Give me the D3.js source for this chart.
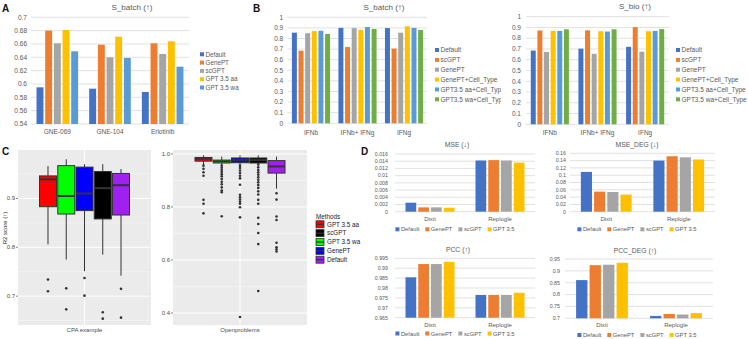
<!DOCTYPE html>
<html>
<head>
<meta charset="utf-8">
<script src="https://cdn.jsdelivr.net/npm/d3@7"></script>
<style>
  body { margin: 0; background: #fff; }
  svg { display: block; font-family: "Liberation Sans", Arial, sans-serif; }
</style>
</head>
<body>
<svg id="fig" width="748" height="339"></svg>
<script>
// ---- panel A : S_batch on three drugs ----
const aCats = ["GNE-069", "GNE-104", "Erlotinib"];
const aSeries = ["Default", "GenePT", "scGPT", "GPT 3.5 aa", "GPT 3.5 wa"];
const aDefault = [0.595, 0.593, 0.588];
const aGenePT = [0.680, 0.659, 0.661];
const aScGPT = [0.661, 0.640, 0.645];
const aGptAA = [0.681, 0.671, 0.664];
const aGptWA = [0.649, 0.639, 0.626];
const aTicks = [0.54, 0.56, 0.58, 0.6, 0.62, 0.64, 0.66, 0.68, 0.7];

// ---- panel B : S_batch / S_bio on interferon sets ----
const bCats = ["IFNb", "IFNb+ IFNg", "IFNg"];
const bSeries = ["Default", "scGPT", "GenePT", "GenePT+Cell_Type", "GPT3.5 aa+Cell_Type", "GPT3.5 wa+Cell_Type"];
const bBatchDefault = [0.855, 0.900, 0.898];
const bBatchScGPT = [0.685, 0.720, 0.705];
const bBatchGenePT = [0.850, 0.898, 0.855];
const bBatchGenePTCell = [0.870, 0.882, 0.915];
const bBatchAACell = [0.873, 0.908, 0.900];
const bBatchWACell = [0.843, 0.890, 0.880];
const bBioDefault = [0.685, 0.703, 0.720];
const bBioScGPT = [0.872, 0.873, 0.903];
const bBioGenePT = [0.672, 0.655, 0.675];
const bBioGenePTCell = [0.868, 0.865, 0.865];
const bBioAACell = [0.868, 0.862, 0.868];
const bBioWACell = [0.883, 0.883, 0.885];
const bTicks = [0, 0.1, 0.2, 0.3, 0.4, 0.5, 0.6, 0.7, 0.8, 0.9, 1];

// ---- panel C : R2 score boxplots (whisker low, q1, median, q3, whisker high) ----
const cMethods = ["GPT 3.5 aa", "GPT 3.5 wa", "GenePT", "scGPT", "Default"];
const cColors = ["#ff0000", "#00ff00", "#0000ff", "#000000", "#a020f0"];
const cLegend = ["GPT 3.5 aa", "scGPT", "GPT 3.5 wa", "GenePT", "Default"];
const cpaStats = [
  [0.806, 0.883, 0.939, 0.946, 0.966],
  [0.775, 0.868, 0.905, 0.967, 0.980],
  [0.751, 0.875, 0.910, 0.964, 0.970],
  [0.785, 0.858, 0.921, 0.955, 0.970],
  [0.742, 0.866, 0.927, 0.951, 0.960]
];
const cpaOutliers = [
  [0.734, 0.710],
  [0.716, 0.673],
  [0.737, 0.701],
  [0.667, 0.654],
  [0.715, 0.656]
];
const opStats = [
  [0.958, 0.973, 0.982, 0.987, 0.995],
  [0.958, 0.966, 0.972, 0.977, 0.990],
  [0.958, 0.967, 0.978, 0.985, 0.995],
  [0.960, 0.966, 0.977, 0.985, 0.995],
  [0.869, 0.928, 0.953, 0.975, 0.990]
];
const opOutliers = [
  [0.956, 0.944, 0.931, 0.918, 0.827, 0.812, 0.776],
  [0.956, 0.948, 0.940, 0.932, 0.924, 0.916, 0.906, 0.895, 0.886, 0.874, 0.862, 0.856, 0.765],
  [0.956, 0.947, 0.938, 0.928, 0.918, 0.908, 0.884, 0.846, 0.837, 0.828, 0.820, 0.812, 0.799, 0.761, 0.385],
  [0.960, 0.950, 0.940, 0.931, 0.922, 0.912, 0.903, 0.893, 0.883, 0.872, 0.859, 0.847, 0.827, 0.812, 0.759, 0.736, 0.702, 0.660, 0.483],
  [0.852, 0.828, 0.764, 0.751, 0.665, 0.648, 0.640, 0.632]
];

// ---- panel D : perturbation prediction ----
const dCats = ["Dixit", "Replogle"];
const dSeries = ["Default", "GenePT", "scGPT", "GPT 3.5"];
const mseDefault = [0.0025, 0.0142];
const mseGenePT = [0.0012, 0.0143];
const mseScGPT = [0.0012, 0.0142];
const mseGpt = [0.0011, 0.0136];
const mseDegDefault = [0.109, 0.140];
const mseDegGenePT = [0.055, 0.152];
const mseDegScGPT = [0.054, 0.149];
const mseDegGpt = [0.047, 0.143];
const pccDefault = [0.9854, 0.9765];
const pccGenePT = [0.9921, 0.9765];
const pccScGPT = [0.9921, 0.9765];
const pccGpt = [0.9932, 0.9776];
const pccDegDefault = [0.861, 0.710];
const pccDegGenePT = [0.924, 0.718];
const pccDegScGPT = [0.926, 0.716];
const pccDegGpt = [0.934, 0.722];
const mseTicks = [0, 0.002, 0.004, 0.006, 0.008, 0.01, 0.012, 0.014, 0.016];
const mseDegTicks = [0, 0.02, 0.04, 0.06, 0.08, 0.1, 0.12, 0.14, 0.16];
const pccTicks = [0.965, 0.97, 0.975, 0.98, 0.985, 0.99, 0.995];
const pccDegTicks = [0.7, 0.75, 0.8, 0.85, 0.9, 0.95];

const BLUE = "#4472c4", ORANGE = "#ed7d31", GRAY = "#a5a5a5", GOLD = "#ffc000", LBLUE = "#5b9bd5", GREEN = "#70ad47";
const TXT = "#595959", GRID = "#d9d9d9";

const svg = d3.select("#fig");
svg.append("rect").attr("width", 748).attr("height", 339).attr("fill", "#fff");

function fmt(v) { return String(+v.toFixed(4)); }

// excel style clustered bar chart
function barChart(o) {
  const g = svg.append("g");
  if (o.clip) g.attr("clip-path", "url(#" + o.clip + ")");
  const y = d3.scaleLinear().domain(o.domain).range([o.bottom, o.top]);
  const x0 = d3.scaleBand().domain(o.cats).range([o.left, o.right])
    .paddingInner(o.gap).paddingOuter(o.gap / 2);
  const x1 = d3.scaleBand().domain(o.series).range([0, x0.bandwidth()]).paddingInner(o.barGap);

  g.selectAll(".grid").data(o.ticks).join("line")
    .attr("x1", o.left).attr("x2", o.right)
    .attr("y1", d => y(d)).attr("y2", d => y(d))
    .attr("stroke", GRID).attr("stroke-width", 0.8);
  g.selectAll(".tick").data(o.ticks).join("text")
    .attr("x", o.left - o.lg).attr("y", d => y(d)).attr("dy", "0.35em")
    .attr("text-anchor", "end").attr("font-size", o.fs).attr("fill", TXT)
    .text(fmt);

  o.series.forEach((s, si) => {
    g.append("g").selectAll("rect").data(o.values[si]).join("rect")
      .attr("x", (d, i) => x0(o.cats[i]) + x1(s))
      .attr("width", x1.bandwidth())
      .attr("y", d => y(d))
      .attr("height", d => y(o.domain[0]) - y(d))
      .attr("fill", o.colors[si]);
  });

  g.selectAll(".cat").data(o.cats).join("text")
    .attr("x", d => x0(d) + x0.bandwidth() / 2).attr("y", o.catY)
    .attr("text-anchor", "middle").attr("font-size", o.cfs || o.fs).attr("fill", TXT)
    .text(d => d);

  g.append("text").attr("x", o.titleX).attr("y", o.titleY)
    .attr("text-anchor", "middle").attr("font-size", o.tfs).attr("fill", TXT)
    .text(o.title);

  if (o.legend === "right") {
    const lg = g.append("g");
    o.series.forEach((s, si) => {
      const yy = o.legY + si * o.legDy;
      lg.append("rect").attr("x", o.legX).attr("y", yy - 2).attr("width", 4).attr("height", 4)
        .attr("fill", o.colors[si]);
      lg.append("text").attr("x", o.legX + 5.5).attr("y", yy).attr("dy", "0.35em")
        .attr("font-size", o.lfs).attr("fill", TXT).text(s);
    });
  } else {
    const lg = g.append("g");
    let cur = 0;
    o.series.forEach((s, si) => {
      lg.append("rect").attr("x", cur).attr("y", o.legY - 2).attr("width", 4).attr("height", 4)
        .attr("fill", o.colors[si]);
      const t = lg.append("text").attr("x", cur + 5.5).attr("y", o.legY).attr("dy", "0.35em")
        .attr("font-size", o.lfs).attr("fill", TXT).text(s);
      cur += 5.5 + t.node().getComputedTextLength() + 6;
    });
    lg.attr("transform", "translate(" + (o.legCx - (cur - 6) / 2) + ",0)");
  }
}

// ggplot style boxplot panel
function boxPanel(o) {
  const g = svg.append("g");
  const y = d3.scaleLinear().domain(o.domain).range([o.bottom, o.top]);
  const cx = (o.left + o.right) / 2;
  const x = d3.scaleBand().domain(cMethods).range([cx - 45, cx + 45]).paddingInner(0.07);
  g.append("rect").attr("x", o.left).attr("y", o.top)
    .attr("width", o.right - o.left).attr("height", o.bottom - o.top).attr("fill", "#ebebeb");
  g.selectAll(".minor").data(o.minor).join("line")
    .attr("x1", o.left).attr("x2", o.right).attr("y1", d => y(d)).attr("y2", d => y(d))
    .attr("stroke", "#fafafa").attr("stroke-width", 0.5);
  g.selectAll(".major").data(o.major).join("line")
    .attr("x1", o.left).attr("x2", o.right).attr("y1", d => y(d)).attr("y2", d => y(d))
    .attr("stroke", "#fff").attr("stroke-width", 1);
  g.append("line").attr("x1", cx).attr("x2", cx).attr("y1", o.top).attr("y2", o.bottom)
    .attr("stroke", "#fff").attr("stroke-width", 1);
  g.selectAll(".tk").data(o.major).join("line")
    .attr("x1", o.left - 2).attr("x2", o.left).attr("y1", d => y(d)).attr("y2", d => y(d))
    .attr("stroke", "#333").attr("stroke-width", 0.6);
  g.selectAll(".tl").data(o.major).join("text")
    .attr("x", o.left - 3).attr("y", d => y(d)).attr("dy", "0.35em")
    .attr("text-anchor", "end").attr("font-size", 6).attr("fill", "#4d4d4d")
    .text(d => d3.format(o.tickFmt)(d));
  g.append("text").attr("x", cx).attr("y", o.bottom + 6.5)
    .attr("text-anchor", "middle").attr("font-size", 6).attr("fill", "#4d4d4d").text(o.label);

  cMethods.forEach((m, i) => {
    const s = o.stats[i];
    const xm = x(m) + x.bandwidth() / 2;
    const b = g.append("g");
    b.append("line").attr("x1", xm).attr("x2", xm).attr("y1", y(s[4])).attr("y2", y(s[3]))
      .attr("stroke", "#333").attr("stroke-width", 1);
    b.append("line").attr("x1", xm).attr("x2", xm).attr("y1", y(s[1])).attr("y2", y(s[0]))
      .attr("stroke", "#333").attr("stroke-width", 1);
    b.append("rect").attr("x", x(m)).attr("width", x.bandwidth())
      .attr("y", y(s[3])).attr("height", y(s[1]) - y(s[3]))
      .attr("fill", cColors[i]).attr("stroke", "#333").attr("stroke-width", 1);
    b.append("line").attr("x1", x(m)).attr("x2", x(m) + x.bandwidth())
      .attr("y1", y(s[2])).attr("y2", y(s[2]))
      .attr("stroke", "#333").attr("stroke-width", 2);
    b.selectAll("circle").data(o.outliers[i]).join("circle")
      .attr("cx", xm).attr("cy", d => y(d)).attr("r", 1.3).attr("fill", "#333");
  });
}

// clip for the left legend of B (cut by the neighbouring chart)
svg.append("defs").append("clipPath").attr("id", "clipB")
  .append("rect").attr("x", 250).attr("y", 0).attr("width", 251).attr("height", 140);

// panel letters
[["A", 2, 12], ["B", 253, 12], ["C", 2, 155], ["D", 361, 155]].forEach(p => {
  svg.append("text").attr("x", p[1]).attr("y", p[2]).attr("font-size", 10)
    .attr("font-weight", "bold").attr("fill", "#111").text(p[0]);
});

barChart({
  cats: aCats, series: aSeries, values: [aDefault, aGenePT, aScGPT, aGptAA, aGptWA],
  colors: [BLUE, ORANGE, GRAY, GOLD, LBLUE],
  left: 31, right: 189, top: 17.3, bottom: 124, domain: [0.54, 0.7], ticks: aTicks,
  gap: 0.21, barGap: 0.2, fs: 6.5, lg: 4, catY: 134,
  title: "S_batch (↑)", titleX: 132, titleY: 10, tfs: 8,
  legend: "right", legX: 200, legY: 54.3, legDy: 8.3, lfs: 6.3
});

barChart({
  cats: bCats, series: bSeries,
  values: [bBatchDefault, bBatchScGPT, bBatchGenePT, bBatchGenePTCell, bBatchAACell, bBatchWACell],
  colors: [BLUE, ORANGE, GRAY, GOLD, LBLUE, GREEN], clip: "clipB",
  left: 287.7, right: 427.3, top: 17.3, bottom: 123.3, domain: [0, 1], ticks: bTicks,
  gap: 0.18, barGap: 0.25, fs: 6.5, lg: 4.5, catY: 134.5,
  title: "S_batch (↑)", titleX: 384, titleY: 10, tfs: 8,
  legend: "right", legX: 435, legY: 50, legDy: 9.86, lfs: 6.5
});

barChart({
  cats: bCats, series: bSeries,
  values: [bBioDefault, bBioScGPT, bBioGenePT, bBioGenePTCell, bBioAACell, bBioWACell],
  colors: [BLUE, ORANGE, GRAY, GOLD, LBLUE, GREEN],
  left: 526, right: 669, top: 16.7, bottom: 124.3, domain: [0, 1], ticks: bTicks,
  gap: 0.2, barGap: 0.25, fs: 6.5, lg: 5, catY: 135,
  title: "S_bio (↑)", titleX: 635, titleY: 9, tfs: 8,
  legend: "right", legX: 676, legY: 50, legDy: 9.86, lfs: 6.5
});

barChart({
  cats: dCats, series: dSeries, values: [mseDefault, mseGenePT, mseScGPT, mseGpt],
  colors: [BLUE, ORANGE, GRAY, GOLD],
  left: 395, right: 535, top: 154, bottom: 211.7, domain: [0, 0.016], ticks: mseTicks,
  gap: 0.3, barGap: 0.16, fs: 5.3, lg: 7, catY: 221, cfs: 6,
  title: "MSE (↓)", titleX: 457, titleY: 147, tfs: 6.8,
  legend: "bottom", legCx: 455, legY: 229.3, lfs: 5.8
});

barChart({
  cats: dCats, series: dSeries, values: [mseDegDefault, mseDegGenePT, mseDegScGPT, mseDegGpt],
  colors: [BLUE, ORANGE, GRAY, GOLD],
  left: 570, right: 715, top: 153.3, bottom: 211.7, domain: [0, 0.16], ticks: mseDegTicks,
  gap: 0.3, barGap: 0.16, fs: 5.3, lg: 4, catY: 221, cfs: 6,
  title: "MSE_DEG (↓)", titleX: 637, titleY: 146.5, tfs: 6.8,
  legend: "bottom", legCx: 637, legY: 229.3, lfs: 5.8
});

barChart({
  cats: dCats, series: dSeries, values: [pccDefault, pccGenePT, pccScGPT, pccGpt],
  colors: [BLUE, ORANGE, GRAY, GOLD],
  left: 395, right: 535, top: 258.3, bottom: 317.7, domain: [0.965, 0.995], ticks: pccTicks,
  gap: 0.3, barGap: 0.16, fs: 5.3, lg: 7, catY: 326.5, cfs: 6,
  title: "PCC (↑)", titleX: 458, titleY: 251.5, tfs: 6.8,
  legend: "bottom", legCx: 455, legY: 333.5, lfs: 5.8
});

barChart({
  cats: dCats, series: dSeries, values: [pccDegDefault, pccDegGenePT, pccDegScGPT, pccDegGpt],
  colors: [BLUE, ORANGE, GRAY, GOLD],
  left: 565, right: 713, top: 259, bottom: 318.3, domain: [0.7, 0.95], ticks: pccDegTicks,
  gap: 0.3, barGap: 0.16, fs: 5.3, lg: 5, catY: 326.5, cfs: 6,
  title: "PCC_DEG (↑)", titleX: 635, titleY: 252.5, tfs: 6.8,
  legend: "bottom", legCx: 637, legY: 335, lfs: 5.8
});

boxPanel({
  left: 18, right: 151, top: 150, bottom: 325, domain: [0.641, 0.999],
  major: [0.7, 0.8, 0.9], minor: [0.65, 0.75, 0.85, 0.95], tickFmt: ".1f",
  stats: cpaStats, outliers: cpaOutliers, label: "CPA example"
});

boxPanel({
  left: 173, right: 307, top: 150, bottom: 325, domain: [0.3547, 1.0151],
  major: [0.4, 0.6, 0.8, 1.0], minor: [0.5, 0.7, 0.9], tickFmt: ".1f",
  stats: opStats, outliers: opOutliers, label: "Openproblems"
});

// y title for C
svg.append("text").attr("transform", "translate(7,228) rotate(-90)")
  .attr("text-anchor", "middle").attr("font-size", 6).attr("fill", "#222").text("R2 score (↑)");

// legend for C
const cl = svg.append("g");
cl.append("text").attr("x", 316).attr("y", 218.5).attr("font-size", 6.3).attr("fill", "#222").text("Methods");
cLegend.forEach((m, i) => {
  const yy = 224.3 + i * 8.85;
  const col = cColors[cMethods.indexOf(m)];
  cl.append("rect").attr("x", 316).attr("y", yy - 3.5).attr("width", 8).attr("height", 7)
    .attr("fill", col).attr("stroke", "#333").attr("stroke-width", 0.8);
  cl.append("line").attr("x1", 316).attr("x2", 324).attr("y1", yy).attr("y2", yy)
    .attr("stroke", "#333").attr("stroke-width", 1.2);
  cl.append("text").attr("x", 327).attr("y", yy).attr("dy", "0.35em")
    .attr("font-size", 6.3).attr("fill", "#222").text(m);
});
</script>
</body>
</html>
